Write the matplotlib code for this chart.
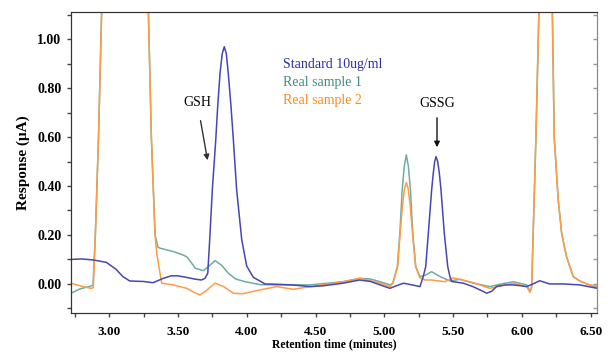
import matplotlib
matplotlib.use("Agg")
import matplotlib.pyplot as plt

# ---- data (retention time in minutes, response in uA) ----
std_t = [2.723, 2.80, 2.885, 2.98, 3.05, 3.10, 3.15, 3.25, 3.32, 3.39, 3.45, 3.50, 3.56, 3.62, 3.67,
         3.697, 3.717, 3.731, 3.750, 3.775, 3.789, 3.806, 3.822, 3.837, 3.852, 3.866, 3.886, 3.903, 3.927,
         3.964, 4.000, 4.048, 4.133, 4.25, 4.35, 4.46, 4.55, 4.70, 4.82, 4.90, 4.97, 5.04, 5.10, 5.14,
         5.21, 5.259, 5.283, 5.301, 5.320, 5.344, 5.356, 5.366, 5.376, 5.388, 5.400, 5.412, 5.436, 5.461,
         5.477, 5.49, 5.574, 5.64, 5.694, 5.744, 5.78, 5.817, 5.88, 5.935, 6.0, 6.035, 6.08, 6.13, 6.20,
         6.30, 6.42, 6.548]
std_y = [0.100, 0.102, 0.098, 0.088, 0.060, 0.030, 0.012, 0.010, 0.005, 0.022, 0.033, 0.033, 0.027, 0.020, 0.016,
         0.023, 0.044, 0.18, 0.384, 0.588, 0.724, 0.86, 0.94, 0.969, 0.94, 0.86, 0.724, 0.588, 0.384,
         0.18, 0.073, 0.027, 0.0, -0.002, -0.005, -0.011, -0.008, 0.003, 0.016, 0.010, -0.004, -0.018, -0.005, 0.003,
         -0.005, -0.011, 0.03, 0.071, 0.207, 0.384, 0.452, 0.50, 0.52, 0.50, 0.452, 0.384, 0.207, 0.071,
         0.03, 0.010, 0.003, -0.010, -0.024, -0.038, -0.030, -0.010, -0.004, -0.004, -0.008, -0.011, 0.0, 0.013, 0.0,
         0.0, -0.004, -0.018]

s1_t = [2.723, 2.79, 2.86, 2.883, 2.90, 2.923, 2.946, 2.95, 3.28, 3.285, 3.307, 3.334, 3.355, 3.37, 3.467, 3.53,
        3.564, 3.60, 3.626, 3.685, 3.73, 3.770, 3.82, 3.866, 3.92, 3.988, 4.1, 4.218, 4.46, 4.70, 4.823, 4.90,
        4.969, 5.042, 5.062, 5.095, 5.113, 5.130, 5.145, 5.160, 5.175, 5.190, 5.207, 5.228, 5.259, 5.296,
        5.344, 5.405, 5.478, 5.55, 5.647, 5.767, 5.85, 5.937, 6.035, 6.059, 6.071, 6.102, 6.124, 6.13,
        6.215, 6.221, 6.235, 6.264, 6.289, 6.325, 6.373, 6.42, 6.47, 6.548]
s1_y = [-0.038, -0.020, -0.010, -0.005, 0.20, 0.60, 1.12, 1.60, 1.60, 1.12, 0.60, 0.20, 0.150, 0.146, 0.132, 0.120,
        0.111, 0.085, 0.064, 0.054, 0.075, 0.095, 0.075, 0.044, 0.020, 0.009, -0.003, -0.004, -0.004, 0.009, 0.023, 0.020,
        0.009, -0.004, 0.003, 0.071, 0.207, 0.384, 0.48, 0.527, 0.48, 0.384, 0.207, 0.071, 0.030, 0.035,
        0.050, 0.030, 0.012, 0.019, 0.003, -0.011, 0.0, 0.009, -0.004, -0.031, -0.011, 0.60, 1.12, 1.60,
        1.60, 1.12, 0.60, 0.343, 0.207, 0.110, 0.030, 0.012, 0.0, -0.015]

s2_t = [2.723, 2.81, 2.87, 2.885, 2.90, 2.923, 2.946, 2.95, 3.28, 3.285, 3.307, 3.334, 3.346, 3.382, 3.467, 3.564,
        3.62, 3.66, 3.70, 3.77, 3.83, 3.903, 3.97, 4.10, 4.218, 4.34, 4.46, 4.70, 4.823, 4.969, 5.042,
        5.062, 5.097, 5.115, 5.132, 5.147, 5.160, 5.173, 5.188, 5.205, 5.228, 5.259, 5.296, 5.344, 5.44,
        5.50, 5.647, 5.767, 5.937, 6.035, 6.059, 6.071, 6.102, 6.124, 6.13, 6.215, 6.221, 6.235, 6.264,
        6.289, 6.325, 6.373, 6.42, 6.47, 6.548]
s2_y = [0.003, -0.011, -0.018, -0.015, 0.20, 0.60, 1.12, 1.60, 1.60, 1.12, 0.60, 0.20, 0.125, 0.003, -0.004, -0.018,
        -0.035, -0.045, -0.030, 0.003, -0.010, -0.038, -0.040, -0.024, -0.011, -0.022, -0.011, 0.009, 0.023, 0.003, -0.011,
        0.003, 0.071, 0.207, 0.32, 0.39, 0.414, 0.39, 0.32, 0.207, 0.071, 0.025, 0.016, 0.016, 0.009,
        0.025, 0.005, -0.018, 0.003, -0.011, -0.035, -0.011, 0.60, 1.12, 1.60, 1.60, 1.12, 0.60, 0.343,
        0.207, 0.110, 0.030, 0.012, 0.0, -0.010]

series_names = ["Standard 10ug/ml", "Real sample 1", "Real sample 2"]
line_colors = ["#4646b6", "#6eaca4", "#ff9c44"]
text_colors = ["#2e2e9e", "#3f8c82", "#ff8a1c"]

xticks_major = [3.00, 3.50, 4.00, 4.50, 5.00, 5.50, 6.00, 6.50]
yticks_major = [0.00, 0.20, 0.40, 0.60, 0.80, 1.00]

serif = ["Liberation Serif", "DejaVu Serif"]

fig = plt.figure(figsize=(6.08, 3.52), dpi=100)
ax = fig.add_axes([71 / 608, 1 - 313.3 / 352, (597.3 - 71) / 608, (313.3 - 11.7) / 352])

ax.plot(s1_t, s1_y, color=line_colors[1], lw=1.1)
ax.plot(s2_t, s2_y, color=line_colors[2], lw=1.1)
ax.plot(std_t, std_y, color=line_colors[0], lw=1.1)

xlim = (2.723, 6.548)
ylim = (-0.12, 1.112)
ax.set_xlim(*xlim)
ax.set_ylim(*ylim)

ax.set_xticks(xticks_major)
ax.set_xticklabels([f"{v:.2f}" for v in xticks_major], fontfamily=serif, fontweight="bold", fontsize=9.5)
ax.set_xticks([v / 4 for v in range(11, 27)], minor=True)
ax.set_yticks(yticks_major)
ax.set_yticklabels([f"{v:.2f}" for v in yticks_major], fontfamily=serif, fontweight="bold", fontsize=10)
ax.set_yticks([v / 10 for v in range(-1, 12)], minor=True)

ax.tick_params(axis="x", which="both", direction="out", length=3, width=1, color="#444444", pad=6)
ax.tick_params(axis="y", which="both", direction="out", length=3, width=1, color="#444444", pad=4)

# right side: inward ticks, no labels
axr = ax.twinx()
axr.set_ylim(*ylim)
axr.set_yticks(yticks_major)
axr.set_yticks([v / 10 for v in range(-1, 12)], minor=True)
axr.tick_params(axis="y", which="both", direction="in", length=3, width=1, color="#999999", labelright=False)

for a in (ax, axr):
    a.spines["left"].set_color("#333333")
    a.spines["top"].set_color("#333333")
    a.spines["bottom"].set_color("#333333")
    a.spines["right"].set_color("#8a8a8a")

ax.set_xlabel("Retention time (minutes)", fontfamily=serif, fontweight="bold", fontsize=8.5, labelpad=0)
ax.set_ylabel("Response (\u03bcA)", fontfamily=serif, fontweight="bold", fontsize=11, labelpad=5)

# legend-like colored texts
for i, (name, c) in enumerate(zip(series_names, text_colors)):
    ax.text(4.264, 0.898 - 0.0735 * i, name, color=c, fontfamily=serif, fontsize=10,
            ha="left", va="center")

# annotations
ax.text(3.642, 0.741, "GSH", fontfamily=serif, fontsize=10, ha="center", va="center")
ax.annotate("", xy=(3.719, 0.494), xytext=(3.661, 0.678),
            arrowprops=dict(arrowstyle="-|>", color="#333333", lw=1.0, mutation_scale=8))
ax.text(5.383, 0.739, "GSSG", fontfamily=serif, fontsize=10, ha="center", va="center")
ax.annotate("", xy=(5.383, 0.547), xytext=(5.383, 0.69),
            arrowprops=dict(arrowstyle="-|>", color="#111111", lw=1.0, mutation_scale=8))

fig.savefig("out.png", dpi=100)
